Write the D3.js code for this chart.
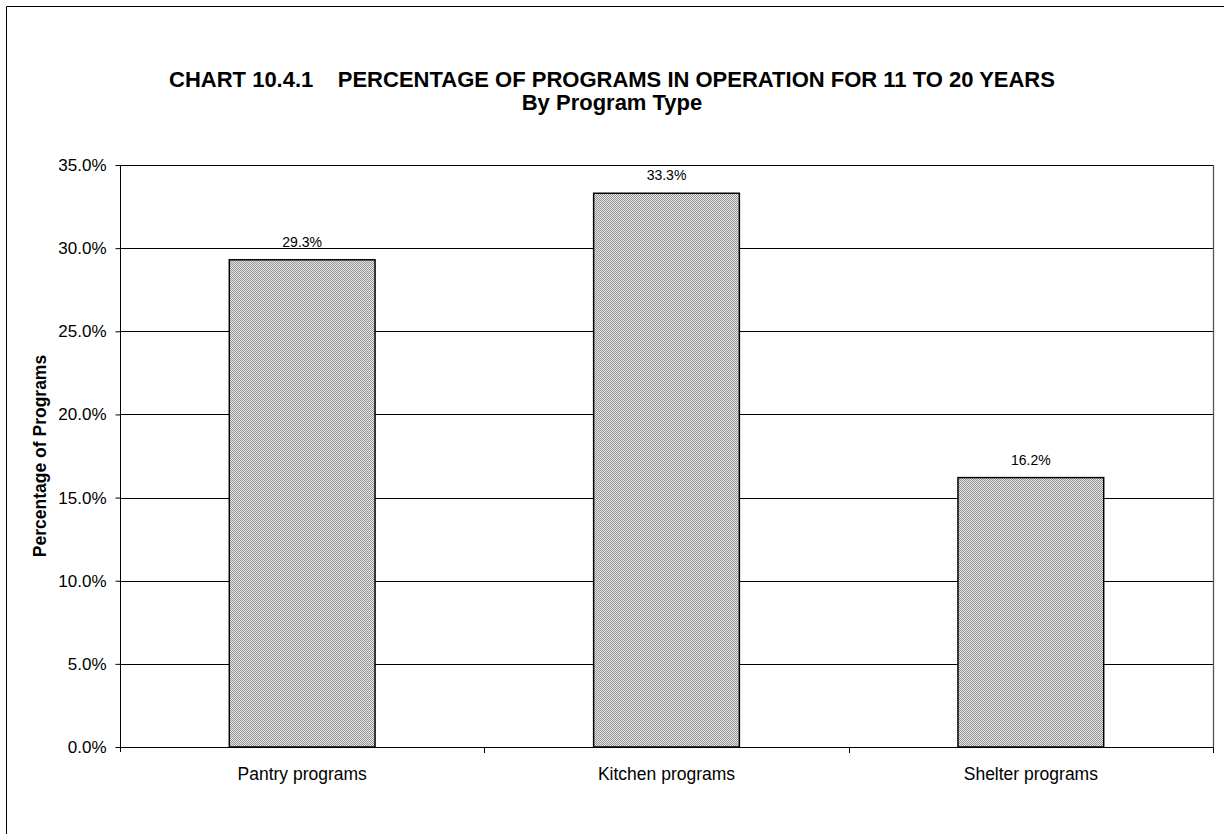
<!DOCTYPE html>
<html>
<head>
<meta charset="utf-8">
<script src="https://cdn.jsdelivr.net/npm/d3@7"></script>
<style>
  body { margin: 0; background: #fff; }
  svg { display: block; font-family: Arial, "Liberation Sans", sans-serif; }
</style>
</head>
<body>
<svg id="chart" width="1224" height="834"></svg>
<script>
const categories = ["Pantry programs", "Kitchen programs", "Shelter programs"];
const values = [29.3, 33.3, 16.2];
const yTicks = [0, 5, 10, 15, 20, 25, 30, 35];
const titleLine1 = "CHART 10.4.1    PERCENTAGE OF PROGRAMS IN OPERATION FOR 11 TO 20 YEARS";
const titleLine2 = "By Program Type";
const yTitle = "Percentage of Programs";

const FONT = "Arial, 'Liberation Sans', sans-serif";
const svg = d3.select("#chart");
const W = 1224, H = 834;
const m = { left: 120, right: 1213, top: 165, bottom: 747 };

// outer frame (left & top visible)
svg.append("path")
  .attr("d", `M6.5,${H} V6.5 H${W}`)
  .attr("fill", "none").attr("stroke", "#000").attr("stroke-width", 1);

// pattern
const defs = svg.append("defs");
const pat = defs.append("pattern").attr("id", "chk")
  .attr("width", 2).attr("height", 2).attr("patternUnits", "userSpaceOnUse");
pat.append("rect").attr("width", 2).attr("height", 2).attr("fill", "#e6e6e6");
pat.append("rect").attr("x", 0).attr("y", 0).attr("width", 1).attr("height", 1).attr("fill", "#949494");
pat.append("rect").attr("x", 1).attr("y", 1).attr("width", 1).attr("height", 1).attr("fill", "#949494");

const x = d3.scaleBand().domain(categories).range([m.left, m.right]).paddingInner(0).paddingOuter(0);
const y = d3.scaleLinear().domain([0, 35]).range([m.bottom, m.top]);

// gridlines
svg.append("g").selectAll("line").data(yTicks.filter(t => t > 0)).join("line")
  .attr("x1", m.left).attr("x2", m.right)
  .attr("y1", d => Math.round(y(d)) + 0.5).attr("y2", d => Math.round(y(d)) + 0.5)
  .attr("stroke", "#000").attr("stroke-width", 1);

// plot border right
svg.append("line").attr("x1", m.right + 0.5).attr("x2", m.right + 0.5)
  .attr("y1", m.top).attr("y2", m.bottom).attr("stroke", "#555").attr("stroke-width", 1.3);

// bars
const bw = x.bandwidth() * 0.4;
svg.append("g").selectAll("rect").data(values).join("rect")
  .attr("x", (d, i) => x(categories[i]) + (x.bandwidth() - bw) / 2)
  .attr("y", d => y(d))
  .attr("width", bw)
  .attr("height", d => m.bottom - y(d))
  .attr("fill", "url(#chk)")
  .attr("stroke", "#000").attr("stroke-width", 1.5);

// value labels
svg.append("g").selectAll("text").data(values).join("text")
  .attr("x", (d, i) => x(categories[i]) + x.bandwidth() / 2)
  .attr("y", d => y(d) - 13)
  .attr("text-anchor", "middle")
  .attr("font-size", 14).attr("fill", "#000")
  .text(d => d.toFixed(1) + "%");

// y axis
const yAxis = d3.axisLeft(y).tickValues(yTicks).tickFormat(d => d.toFixed(1) + "%").tickSize(5).tickPadding(9);
const gy = svg.append("g").attr("transform", `translate(${m.left + 0.5},0)`).call(yAxis);
gy.select(".domain").attr("stroke", "#000").attr("d", `M0,${m.top}V${m.bottom + 5}`);
gy.selectAll(".tick line").attr("stroke", "#000");
gy.selectAll(".tick text").attr("font-size", 17).attr("font-family", FONT).attr("fill", "#000");

// x axis
const xAxis = d3.axisBottom(x).tickSize(0).tickPadding(20);
const gx = svg.append("g").attr("transform", `translate(0,${m.bottom + 0.5})`).call(xAxis);
gx.select(".domain").attr("stroke", "#000").attr("d", `M${m.left},0H${m.right + 1}`);
gx.selectAll(".tick text").attr("font-size", 17.5).attr("font-family", FONT).attr("fill", "#000");
// category separators
svg.append("g").selectAll("line").data(categories.slice(1)).join("line")
  .attr("x1", d => Math.round(x(d)) + 0.5).attr("x2", d => Math.round(x(d)) + 0.5)
  .attr("y1", m.bottom).attr("y2", m.bottom + 6)
  .attr("stroke", "#000");
svg.append("line").attr("x1", m.right + 0.5).attr("x2", m.right + 0.5)
  .attr("y1", m.bottom).attr("y2", m.bottom + 6).attr("stroke", "#000");

// titles
svg.append("text").attr("x", 612).attr("y", 87).attr("text-anchor", "middle")
  .attr("font-size", 22).attr("font-weight", "bold")
  .style("white-space", "pre").text(titleLine1);
svg.append("text").attr("x", 612).attr("y", 110).attr("text-anchor", "middle")
  .attr("font-size", 22).attr("font-weight", "bold").text(titleLine2);

svg.append("text")
  .attr("transform", `translate(46,456) rotate(-90)`)
  .attr("text-anchor", "middle").attr("font-size", 17.5).attr("font-weight", "bold")
  .text(yTitle);
</script>
</body>
</html>
